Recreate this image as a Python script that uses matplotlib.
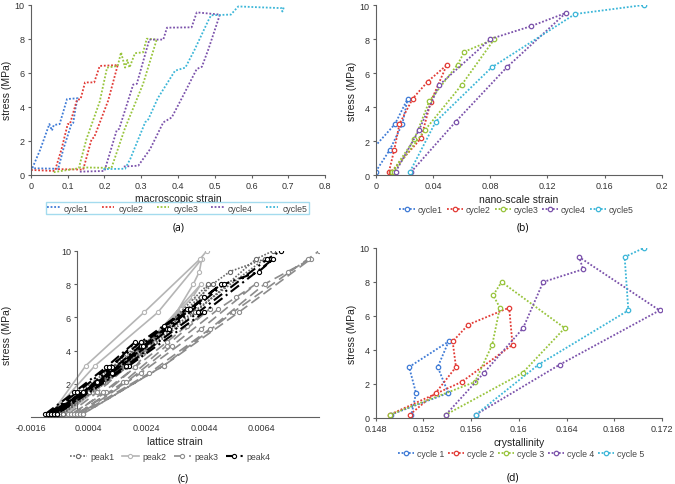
import matplotlib.pyplot as plt
import numpy as np

plt.rcParams['font.family'] = ['Liberation Sans', 'DejaVu Sans']

# ---- (a) macroscopic strain vs stress
a_c1_x = [0.0, 0.025, 0.050, 0.057, 0.062, 0.078, 0.098, 0.127, 0.121, 0.115, 0.110, 0.088, 0.074, 0.0]
a_c1_y = [0.2, 1.47, 2.98, 2.6, 2.92, 2.98, 4.45, 4.5, 3.9, 3.05, 2.98, 1.5, 0.35, 0.38]
a_c2_x = [0.0, 0.065, 0.083, 0.100, 0.106, 0.125, 0.135, 0.147, 0.172, 0.187, 0.236, 0.210, 0.172, 0.165, 0.142, 0.070]
a_c2_y = [0.28, 0.22, 1.5, 2.98, 2.98, 4.4, 4.45, 5.43, 5.43, 6.4, 6.45, 4.36, 2.2, 2.1, 0.3, 0.33]
a_c3_x = [0.062, 0.130, 0.151, 0.187, 0.207, 0.236, 0.245, 0.256, 0.262, 0.268, 0.283, 0.305, 0.315, 0.342, 0.305, 0.255, 0.219, 0.134]
a_c3_y = [0.15, 0.38, 2.1, 4.3, 6.3, 6.4, 7.2, 6.3, 6.75, 6.3, 7.15, 7.2, 8.0, 7.95, 5.34, 2.69, 0.4, 0.43]
a_c4_x = [0.133, 0.200, 0.233, 0.240, 0.278, 0.288, 0.322, 0.360, 0.370, 0.437, 0.451, 0.514, 0.483, 0.465, 0.451, 0.414, 0.383, 0.360, 0.324, 0.292, 0.250]
a_c4_y = [0.18, 0.22, 2.6, 2.7, 5.3, 5.35, 7.95, 7.95, 8.65, 8.67, 9.55, 9.42, 7.4, 6.35, 6.22, 4.65, 3.37, 3.08, 1.5, 0.53, 0.48]
a_c5_x = [0.197, 0.256, 0.270, 0.311, 0.318, 0.345, 0.392, 0.420, 0.444, 0.482, 0.490, 0.544, 0.564, 0.620, 0.682, 0.684, 0.688]
a_c5_y = [0.33, 0.35, 0.92, 3.1, 3.2, 4.5, 6.12, 6.3, 7.3, 9.05, 9.38, 9.42, 9.9, 9.85, 9.8, 9.6, 9.85]

# ---- (b) nano-scale strain
b_c1_x = [0.0, 0.010, 0.0186, 0.0224, 0.0135, -0.006]
b_c1_y = [0.2, 1.5, 3.0, 4.5, 3.0, 1.17]
b_c2_x = [0.0093, 0.013, 0.0166, 0.0259, 0.0364, 0.0497, 0.0385, 0.0317, 0.011]
b_c2_y = [0.2, 1.5, 3.0, 4.5, 5.5, 6.47, 4.31, 2.16, 0.2]
b_c3_x = [0.0117, 0.027, 0.0375, 0.0573, 0.062, 0.083, 0.0601, 0.0345, 0.0125]
b_c3_y = [0.2, 2.1, 4.35, 6.5, 7.25, 8.0, 5.3, 2.65, 0.2]
b_c4_x = [0.014, 0.0303, 0.0445, 0.0802, 0.1084, 0.1329, 0.0916, 0.056, 0.025]
b_c4_y = [0.2, 2.65, 5.3, 8.0, 8.75, 9.53, 6.33, 3.14, 0.2]
b_c5_x = [0.024, 0.042, 0.0811, 0.1394, 0.1876]
b_c5_y = [0.2, 3.14, 6.33, 9.47, 10.0]

# ---- (c) lattice strain, same stress sequence for every peak
c_stress = [0.2, 1.5, 3.0, 4.5, 3.0, 1.5, 0.2,
            0.2, 1.5, 3.0, 4.5, 5.5, 6.5, 4.3, 2.1, 0.2,
            0.2, 2.1, 4.3, 6.5, 7.2, 8.0, 5.3, 2.65, 0.2,
            0.2, 2.65, 5.3, 8.0, 8.75, 9.5, 6.3, 3.1, 0.2,
            0.2, 3.1, 6.3, 9.5, 10.0]
peak1 = [-0.0009, 0.0001, 0.0012, 0.0022, 0.0014, 0.0004, -0.0008,
         -0.0008, 0.0002, 0.0013, 0.0024, 0.0031, 0.0038, 0.0023, 0.0008, -0.0007,
         -0.0007, 0.0009, 0.0025, 0.0039, 0.0043, 0.00455, 0.0030, 0.0013, -0.0006,
         -0.0006, 0.0013, 0.0031, 0.0047, 0.0053, 0.0065, 0.0040, 0.0017, -0.0005,
         -0.0005, 0.0018, 0.0041, 0.0062, 0.0068]
peak2 = [-0.0006, 0.0003, 0.0013, 0.0023, 0.0015, 0.0005, -0.0005,
         -0.0005, 0.0004, 0.0014, 0.0025, 0.0031, 0.0037, 0.0023, 0.0008, -0.0004,
         -0.0004, 0.0010, 0.0025, 0.0036, 0.0040, 0.0043, 0.0029, 0.0012, -0.0004,
         -0.0004, 0.0013, 0.0031, 0.00403, 0.00424, 0.00432, 0.0028, 0.00062, -0.0009,
         -0.0009, 0.0003, 0.00232, 0.00426, 0.0045]
peak3 = [-0.0003, 0.0007, 0.0017, 0.0027, 0.0020, 0.0010, -0.0002,
         -0.0001, 0.0009, 0.0020, 0.0031, 0.0038, 0.0046, 0.0031, 0.0016, 0.0000,
         0.0000, 0.0017, 0.0033, 0.0049, 0.0055, 0.0062, 0.0043, 0.0022, 0.0001,
         0.0001, 0.0025, 0.0046, 0.0065, 0.0073, 0.0081, 0.0056, 0.0030, 0.0002,
         0.0002, 0.0030, 0.0054, 0.0080, 0.0084]
peak4 = [-0.0011, -0.0001, 0.0010, 0.0020, 0.0012, 0.0002, -0.0010,
         -0.0010, 0.0000, 0.0011, 0.0022, 0.0030, 0.0038, 0.0022, 0.0007, -0.0009,
         -0.0009, 0.0007, 0.0023, 0.0039, 0.0044, 0.0050, 0.0031, 0.0012, -0.0008,
         -0.0008, 0.0012, 0.0032, 0.0051, 0.0063, 0.0068, 0.0044, 0.0018, -0.0007,
         -0.0007, 0.0017, 0.0042, 0.0066, 0.00707]

# ---- (d) crystallinity
d_c1_x = [0.14928, 0.15408, 0.1532, 0.15411, 0.1508, 0.15138, 0.1510]
d_c1_y = [0.2, 1.47, 3.0, 4.5, 3.0, 1.47, 0.2]
d_c2_x = [0.15087, 0.15302, 0.15473, 0.15445, 0.15576, 0.15919, 0.15947, 0.1552, 0.1492]
d_c2_y = [0.2, 1.47, 3.0, 4.5, 5.49, 6.49, 4.31, 2.12, 0.2]
d_c3_x = [0.1492, 0.15632, 0.15777, 0.15841, 0.15785, 0.15855, 0.16385, 0.16031, 0.1539]
d_c3_y = [0.2, 2.12, 4.31, 6.49, 7.22, 8.0, 5.29, 2.65, 0.2]
d_c4_x = [0.15389, 0.15707, 0.16036, 0.16204, 0.16539, 0.16505, 0.1718, 0.16343, 0.1564]
d_c4_y = [0.2, 2.65, 5.29, 8.0, 8.75, 9.47, 6.33, 3.14, 0.2]
d_c5_x = [0.1564, 0.16165, 0.16918, 0.16887, 0.17047]
d_c5_y = [0.2, 3.14, 6.33, 9.47, 10.0]

colors = ['#3F7BD6', '#E23B36', '#98C43C', '#7B52AB', '#3CB6D8']
dot = (0, (1, 1))

fig = plt.figure(figsize=(6.75, 4.85), dpi=100)


def style(ax):
    for s in ['top', 'right']:
        ax.spines[s].set_visible(False)
    for s in ['left', 'bottom']:
        ax.spines[s].set_color('#606060')
        ax.spines[s].set_linewidth(0.8)
    ax.tick_params(labelsize=6.5, color='#606060', labelcolor='#333333',
                   length=2.5, width=0.8, pad=2)
    ax.set_ylim(0, 10)
    ax.set_yticks(np.arange(0, 11, 2))


def labels(ax, xl, xly, yx):
    ax.set_xlabel(xl, fontsize=7.5, color='#222222')
    ax.xaxis.set_label_coords(0.5, xly)
    ax.set_ylabel('stress (MPa)', fontsize=7.5, color='#222222')
    ax.yaxis.set_label_coords(yx, 0.5)


# (a)
ax = fig.add_axes([0.0459, 0.6377, 0.4356, 0.3505])
style(ax)
for i, (x, y) in enumerate([(a_c1_x, a_c1_y), (a_c2_x, a_c2_y), (a_c3_x, a_c3_y),
                            (a_c4_x, a_c4_y), (a_c5_x, a_c5_y)]):
    ax.plot(x, y, linestyle=dot, color=colors[i], lw=1.3, label='cycle%d' % (i + 1))
ax.set_xlim(0, 0.8)
ax.set_xticks(np.arange(0, 0.81, 0.1))
ax.set_xticklabels(['0', '0.1', '0.2', '0.3', '0.4', '0.5', '0.6', '0.7', '0.8'])
labels(ax, 'macroscopic strain', -0.11, -0.065)
leg = ax.legend(loc='center', bbox_to_anchor=(0.263, 0.569), bbox_transform=fig.transFigure,
                ncol=5, fontsize=6.3, frameon=True, fancybox=False, handlelength=1.4,
                handletextpad=0.5, columnspacing=1.5, borderpad=0.2, labelcolor='#444444')
leg.get_frame().set_edgecolor('#8ED3EA')
leg.get_frame().set_linewidth(1.0)
fig.text(0.264, 0.530, '(a)', ha='center', va='center', fontsize=7.5, family='Open Sans')

# (b)
ax = fig.add_axes([0.5566, 0.6371, 0.4237, 0.3505])
style(ax)
for i, (x, y) in enumerate([(b_c1_x, b_c1_y), (b_c2_x, b_c2_y), (b_c3_x, b_c3_y),
                            (b_c4_x, b_c4_y), (b_c5_x, b_c5_y)]):
    ax.plot(x, y, linestyle=dot, color=colors[i], lw=1.3, marker='o', ms=3.2,
            mfc='white', mew=0.9, label='cycle%d' % (i + 1))
ax.set_xlim(0, 0.2)
ax.set_xticks(np.arange(0, 0.201, 0.04))
ax.set_xticklabels(['0', '0.04', '0.08', '0.12', '0.16', '0.2'])
labels(ax, 'nano-scale strain', -0.11, -0.067)
ax.legend(loc='center', bbox_to_anchor=(0.765, 0.565), bbox_transform=fig.transFigure,
          ncol=5, fontsize=6.3, frameon=False, handlelength=1.8, handletextpad=0.3,
          columnspacing=0.5, labelcolor='#444444')
fig.text(0.775, 0.530, '(b)', ha='center', va='center', fontsize=7.5, family='Open Sans')

# (c)
ax = fig.add_axes([0.0459, 0.1375, 0.4273, 0.3435])
style(ax)
ax.spines['left'].set_position(('data', 0))
ax.plot(peak2, c_stress, '-', color='#B5B5B5', lw=1.2, marker='o', ms=3,
        mfc='white', mew=0.8, label='peak2', zorder=2)
ax.plot(peak3, c_stress, linestyle=(0, (6, 3)), color='#8C8C8C', lw=1.2, marker='o',
        ms=3, mfc='white', mew=0.8, label='peak3', zorder=3)
ax.plot(peak1, c_stress, linestyle=dot, color='#6A6A6A', lw=1.2, marker='o', ms=3,
        mfc='white', mew=0.8, label='peak1', zorder=4)
ax.plot(peak4, c_stress, linestyle=(0, (5, 2, 1, 2)), color='black', lw=1.5, marker='o',
        ms=3, mfc='white', mew=0.8, label='peak4', zorder=5)
ax.set_xlim(-0.0016, 0.0084)
ax.set_xticks([-0.0016, 0.0004, 0.0024, 0.0044, 0.0064])
ax.set_xticklabels(['-0.0016', '0.0004', '0.0024', '0.0044', '0.0064'])
ax.set_yticklabels(['', '2', '4', '6', '8', '10'])
ax.tick_params(axis='x', length=0, pad=4)
labels(ax, 'lattice strain', -0.11, -0.065)
h, l = ax.get_legend_handles_labels()
order = [2, 0, 1, 3]
ax.legend([h[k] for k in order], [l[k] for k in order], loc='center',
          bbox_to_anchor=(0.252, 0.056), bbox_transform=fig.transFigure, ncol=4,
          fontsize=6.3, frameon=False, handlelength=2.0, handletextpad=0.4,
          columnspacing=0.8, labelcolor='#444444')
fig.text(0.271, 0.013, '(c)', ha='center', va='center', fontsize=7.5, family='Open Sans')

# (d)
ax = fig.add_axes([0.5566, 0.1361, 0.4241, 0.3505])
style(ax)
for i, (x, y) in enumerate([(d_c1_x, d_c1_y), (d_c2_x, d_c2_y), (d_c3_x, d_c3_y),
                            (d_c4_x, d_c4_y), (d_c5_x, d_c5_y)]):
    ax.plot(x, y, linestyle=dot, color=colors[i], lw=1.3, marker='o', ms=3.2,
            mfc='white', mew=0.9, label='cycle %d' % (i + 1))
ax.set_xlim(0.148, 0.172)
ax.set_xticks(np.arange(0.148, 0.1721, 0.004))
ax.set_xticklabels(['0.148', '0.152', '0.156', '0.16', '0.164', '0.168', '0.172'])
labels(ax, 'crystallinity', -0.11, -0.067)
ax.legend(loc='center', bbox_to_anchor=(0.772, 0.062), bbox_transform=fig.transFigure,
          ncol=5, fontsize=6.3, frameon=False, handlelength=1.8, handletextpad=0.3,
          columnspacing=0.5, labelcolor='#444444')
fig.text(0.760, 0.014, '(d)', ha='center', va='center', fontsize=7.5, family='Open Sans')

fig.savefig('out.png', dpi=100)
